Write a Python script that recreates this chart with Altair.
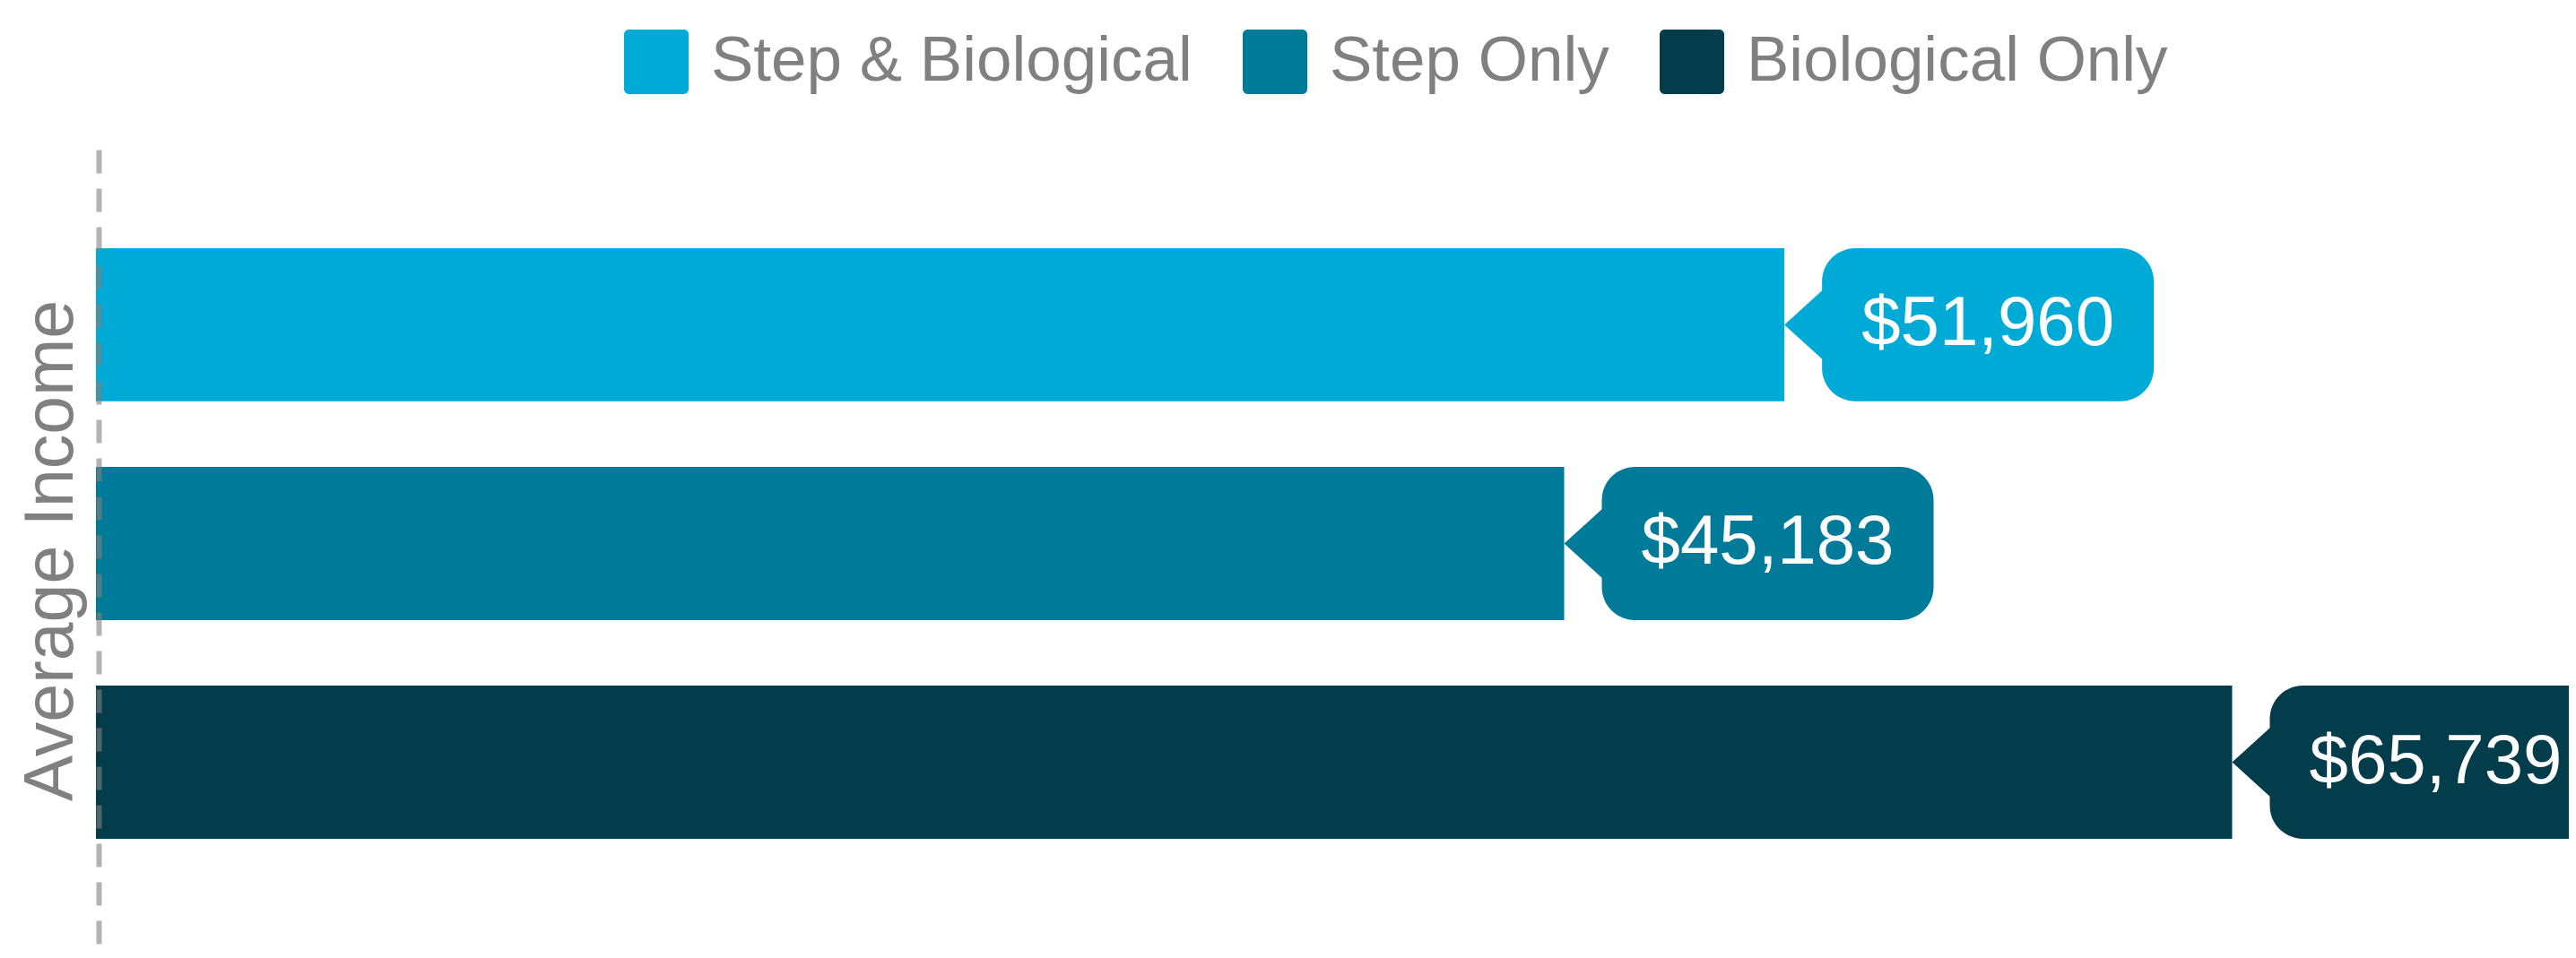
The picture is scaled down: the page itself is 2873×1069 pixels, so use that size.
import altair as alt
import pandas as pd

categories = ["Step & Biological", "Step Only", "Biological Only"]
incomes = [51960, 45183, 65739]
colors = ["#00AAD6", "#007A99", "#033C4B"]

df = pd.DataFrame({"group": categories, "income": incomes})

FONT = "Liberation Sans"
GRAY = "#808080"
W, H = 2758, 894
X_MAX = 76100

ROUND_SQ = ("M -0.85,-1 L 0.85,-1 A 0.15,0.15 0 0 1 1,-0.85 L 1,0.85 "
            "A 0.15,0.15 0 0 1 0.85,1 L -0.85,1 A 0.15,0.15 0 0 1 -1,0.85 "
            "L -1,-0.85 A 0.15,0.15 0 0 1 -0.85,-1 Z")
POINTER = "M -0.5,0 L 0.6,-1 L 0.6,1 Z"

x_enc = alt.X("income:Q", scale=alt.Scale(domain=[0, X_MAX], nice=False), axis=None)
y_enc = alt.Y(
    "group:N",
    sort=categories,
    scale=alt.Scale(paddingInner=0.3, paddingOuter=0.4816, align=0.468),
    axis=alt.Axis(
        title="Average Income", labels=False, ticks=False, grid=False,
        domainColor=GRAY, domainOpacity=0.6, domainWidth=6, domainDash=[26, 17],
        domainCap="butt", offset=-3, zindex=1,
        titleFontSize=77, titleFont=FONT, titleFontWeight="normal", titleColor=GRAY,
        titleAngle=-90, titleBaseline="alphabetic", titleX=-30, titleAlign="center",
    ),
)
color_scale = alt.Scale(domain=categories, range=colors)

legend = alt.Legend(
    title=None, orient="none", legendX=589, legendY=-134, direction="horizontal",
    symbolType=ROUND_SQ, symbolSize=5184, symbolStrokeWidth=0, symbolOpacity=1,
    labelFontSize=71, labelFont=FONT, labelColor=GRAY, labelOffset=25,
    columnPadding=56, padding=0, labelLimit=0,
)

base = alt.Chart(df)

bars = base.mark_bar().encode(
    x=x_enc, y=y_enc,
    color=alt.Color("group:N", scale=color_scale, legend=legend),
)

bubble = base.mark_bar(cornerRadius=37, xOffset=42, x2Offset=412).encode(
    x=x_enc, x2="income:Q", y=y_enc,
    color=alt.Color("group:N", scale=color_scale, legend=None),
)

pointer = base.mark_point(
    shape=POINTER, size=6889, filled=True, opacity=1, strokeWidth=0, xOffset=20.75
).encode(
    x=x_enc, y=y_enc,
    color=alt.Color("group:N", scale=color_scale, legend=None),
)

labels = base.mark_text(
    xOffset=227, fontSize=78, font=FONT, color="white", align="center", baseline="middle"
).encode(
    x=x_enc, y=y_enc, text=alt.Text("income:Q", format="$,.0f"),
)

chart = alt.layer(bars, bubble, pointer, labels).properties(
    width=W, height=H,
    autosize=alt.AutoSizeParams(type="none"),
    padding={"left": 99, "top": 159, "right": 0, "bottom": 0},
).configure_view(stroke=None)

chart.save("out.html", embed_options={"renderer": "svg", "actions": False})
